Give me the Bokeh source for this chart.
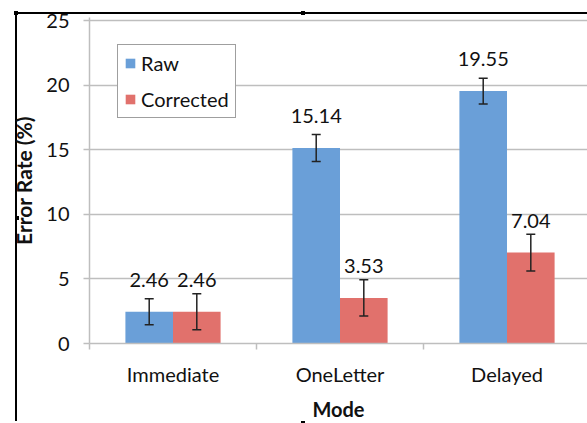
from bokeh.plotting import figure
from bokeh.models import (ColumnDataSource, Range1d, FixedTicker, Whisker, TeeHead,
                          Legend, LegendItem)
from bokeh.embed import file_html
from bokeh.resources import INLINE
from bokeh.core.properties import value

# ---- data ----
modes = ["Immediate", "OneLetter", "Delayed"]
raw = [2.46, 15.14, 19.55]
corrected = [2.46, 3.53, 7.04]
raw_err = [1.0, 1.05, 1.0]
corr_err = [1.4, 1.4, 1.42]
y_ticks = [0, 5, 10, 15, 20, 25]
x_title = "Mode"
y_title = "Error Rate (%)"

FONT = "Lato"
BLUE = "#6A9FD8"
RED = "#E1716C"
GRID = "#BEBEBE"
TXT = "#111111"
FS = "20px"

centers = [i + 0.5 for i in range(len(modes))]
bounds = [i for i in range(len(modes) + 1)]
off = 0.1425
bw = 0.285

raw_x = [c - off for c in centers]
cor_x = [c + off for c in centers]

src_raw = ColumnDataSource(dict(
    x=raw_x, top=raw,
    upper=[v + e for v, e in zip(raw, raw_err)],
    lower=[v - e for v, e in zip(raw, raw_err)],
    label=[f"{v:.2f}" for v in raw]))
src_cor = ColumnDataSource(dict(
    x=cor_x, top=corrected,
    upper=[v + e for v, e in zip(corrected, corr_err)],
    lower=[v - e for v, e in zip(corrected, corr_err)],
    label=[f"{v:.2f}" for v in corrected]))

p = figure(width=587, height=423, output_backend="svg", toolbar_location=None,
           x_range=Range1d(0, 2.982), y_range=Range1d(0, 25.25),
           min_border_left=89, min_border_right=0, min_border_top=17,
           min_border_bottom=80)
# outer frame lines of the screenshot (drawn behind the transparent border area)
blk = "linear-gradient(#000,#000)"
p.styles = {
    "background-color": "white",
    "background-image": ", ".join([blk] * 6),
    "background-size": "572px 2px, 2px 409px, 4px 4px, 4px 4px, 4px 4px, 4px 2px",
    "background-position": "15px 12px, 15px 12px, 14px 11px, 301px 11px, 15px 216px, 301px 421px",
    "background-repeat": "no-repeat",
}
p.outline_line_color = None
p.background_fill_color = "white"
p.border_fill_color = None

# grid
p.xgrid.visible = False
p.ygrid.ticker = FixedTicker(ticks=y_ticks, minor_ticks=[])
p.ygrid.grid_line_color = GRID
p.ygrid.grid_line_width = 1.5

# y axis
ya = p.yaxis[0]
ya.ticker = FixedTicker(ticks=y_ticks, minor_ticks=[])
ya.axis_line_color = GRID
ya.axis_line_width = 1.5
ya.major_tick_line_color = GRID
ya.major_tick_line_width = 1.5
ya.major_tick_out = 6
ya.major_tick_in = 0
ya.minor_tick_line_color = None
ya.major_label_standoff = 14
ya.major_label_text_font = FONT
ya.major_label_text_font_size = FS
ya.major_label_text_color = TXT
ya.axis_label = y_title
ya.axis_label_text_font = FONT
ya.axis_label_text_font_size = "21px"
ya.axis_label_text_font_style = "bold"
ya.axis_label_text_color = TXT
ya.axis_label_standoff = 7

# x axis
xa = p.xaxis[0]
xa.ticker = FixedTicker(ticks=centers, minor_ticks=bounds)
xa.major_label_overrides = {c: m for c, m in zip(centers, modes)}
xa.axis_line_color = GRID
xa.axis_line_width = 1.5
xa.major_tick_line_color = None
xa.major_tick_out = 0
xa.major_tick_in = 0
xa.minor_tick_line_color = GRID
xa.minor_tick_line_width = 1.5
xa.minor_tick_out = 6
xa.minor_tick_in = 0
xa.major_label_standoff = 12
xa.major_label_text_font = FONT
xa.major_label_text_font_size = FS
xa.major_label_text_color = TXT
xa.axis_label = x_title
xa.axis_label_text_font = FONT
xa.axis_label_text_font_size = "20px"
xa.axis_label_text_font_style = "bold"
xa.axis_label_text_color = TXT
xa.axis_label_standoff = 8

# bars
r1 = p.vbar(x="x", top="top", bottom=0, width=bw, source=src_raw,
            fill_color=BLUE, line_color=None)
r2 = p.vbar(x="x", top="top", bottom=0, width=bw, source=src_cor,
            fill_color=RED, line_color=None)

# error bars
for s in (src_raw, src_cor):
    w = Whisker(base="x", upper="upper", lower="lower", source=s,
                line_color="#222222", line_width=1.5, level="annotation",
                upper_head=TeeHead(size=9, line_color="#222222", line_width=1.5),
                lower_head=TeeHead(size=9, line_color="#222222", line_width=1.5))
    p.add_layout(w)

# data labels
for s in (src_raw, src_cor):
    p.text(x="x", y="top", text="label", source=s,
           text_font=value(FONT), text_font_size=FS, text_color=TXT,
           text_align="center", text_baseline="alphabetic", y_offset=-32)

legend = Legend(items=[LegendItem(label="Raw", renderers=[r1]),
                       LegendItem(label="Corrected", renderers=[r2])],
                location=(28, 225), margin=0, padding=6,
                glyph_width=12, glyph_height=12, label_standoff=5,
                label_height=20, spacing=12,
                label_text_font=FONT, label_text_font_size=FS,
                label_text_color=TXT,
                border_line_color="#404040", border_line_width=1.5,
                background_fill_color="white", background_fill_alpha=1.0)
p.add_layout(legend)

open("out.html", "w").write(file_html(p, INLINE))
